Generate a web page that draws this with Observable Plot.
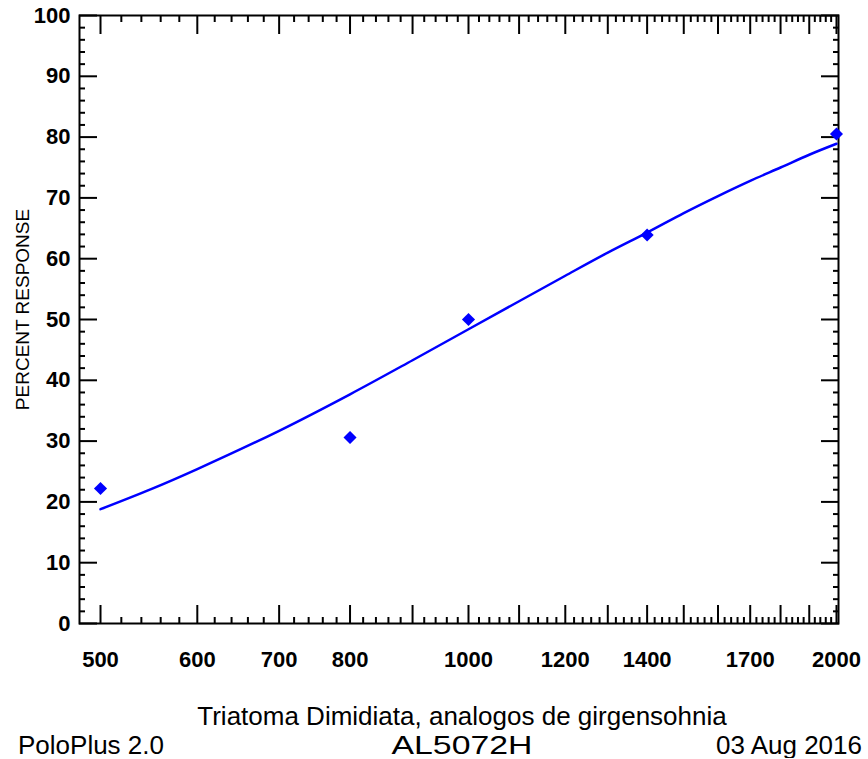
<!DOCTYPE html>
<html><head><meta charset="utf-8">
<script src="https://cdn.jsdelivr.net/npm/d3@7"></script>
<script src="https://cdn.jsdelivr.net/npm/@observablehq/plot@0.6"></script>
<style>
body{margin:0;background:#fff;font-family:"Liberation Sans",Arial,sans-serif;color:#000}
#wrap{width:868px;position:relative}
.cap{font-size:26px;line-height:26px;white-space:nowrap;position:relative}
</style></head><body>
<div id="wrap">
<div id="chart"></div>
<div class="cap" style="height:29px;margin-top:13px">
<span id="title" style="position:absolute;left:462px;transform:translateX(-50%)"></span>
</div>
<div class="cap" style="height:26px">
<span id="capL" style="position:absolute;left:18px"></span>
<span id="capC" style="position:absolute;left:462px;transform:translateX(-50%) scaleX(1.3)"></span>
<span id="capR" style="position:absolute;right:6px"></span>
</div>
</div>
<script>
// Observed data (dose vs percent response)
const doses = [500, 800, 1000, 1400, 2000];
const responses = [22.2, 30.6, 50.0, 63.9, 80.5];

// Fitted probit curve
const fitDoses = [500, 550, 600, 700, 800, 900, 1000, 1100, 1200, 1300, 1400, 1500, 1600, 1700, 1800, 1900, 2000];
const fitResponses = [18.8, 22.1, 25.4, 31.7, 37.7, 43.3, 48.4, 53.0, 57.2, 61.0, 64.3, 67.5, 70.3, 72.8, 75.0, 77.1, 78.9];

// Tick labels
const xLabels = [500, 600, 700, 800, 1000, 1200, 1400, 1700, 2000];
const xMajor = [500, 600, 700, 800, 900, 1000, 1100, 1200, 1300, 1400, 1500, 1600, 1700, 1800, 1900, 2000];
const xMinor = d3.range(520, 2000, 20).filter(v => v % 100 !== 0);
const yLabels = [0, 10, 20, 30, 40, 50, 60, 70, 80, 90, 100];
const yMinor = d3.range(2, 100, 2).filter(v => v % 10 !== 0);

const yTitle = "PERCENT RESPONSE";
const title = "Triatoma Dimidiata, analogos de girgensohnia";
const footLeft = "PoloPlus 2.0";
const footCenter = "AL5072H";
const footRight = "03 Aug 2016";

const points = doses.map((d, i) => ({dose: d, pct: responses[i]}));
const fit = fitDoses.map((d, i) => ({dose: d, pct: fitResponses[i]}));

const tk = {fill: "none", label: null, strokeWidth: 2};
const fmt = d => `${d}`;

const plot = Plot.plot({
  width: 868, height: 690,
  marginLeft: 79, marginRight: 30, marginTop: 15, marginBottom: 67,
  style: {fontFamily: "'Liberation Sans', Arial, sans-serif", background: "#fff", color: "#000", overflow: "visible"},
  x: {type: "log", domain: [480.6, 2007.6]},
  y: {domain: [0, 100]},
  marks: [
    Plot.axisX(xMajor, {anchor: "bottom", tickSize: -18, ...tk}),
    Plot.axisX(xMinor, {anchor: "bottom", tickSize: -6, ...tk}),
    Plot.axisX(xMajor, {anchor: "top", tickSize: -18, ...tk}),
    Plot.axisX(xMinor, {anchor: "top", tickSize: -6, ...tk}),
    Plot.axisY(yLabels, {anchor: "left", tickSize: -18, ...tk}),
    Plot.axisY(yMinor, {anchor: "left", tickSize: -6, ...tk}),
    Plot.axisY(yLabels, {anchor: "right", tickSize: -18, ...tk}),
    Plot.axisY(yMinor, {anchor: "right", tickSize: -6, ...tk}),
    Plot.axisX(xLabels, {anchor: "bottom", tickSize: 0, tickPadding: 28, fontSize: 22, fontWeight: "bold", label: null, tickFormat: fmt}),
    Plot.axisY(yLabels, {anchor: "left", tickSize: 0, tickPadding: 9, fontSize: 22, fontWeight: "bold", label: null, tickFormat: fmt}),
    Plot.frame({strokeWidth: 2}),
    Plot.text([yTitle], {frameAnchor: "left", textAnchor: "middle", rotate: -90, dx: -57, dy: -10, fontSize: 19, text: d => d}),
    Plot.line(fit, {x: "dose", y: "pct", stroke: "#0000ff", strokeWidth: 2.5, curve: "catmull-rom"}),
    Plot.dot(points, {x: "dose", y: "pct", symbol: "diamond2", r: 5.9, fill: "#0000ff", stroke: "none"})
  ]
});
document.getElementById("chart").appendChild(plot);
document.getElementById("title").textContent = title;
document.getElementById("capL").textContent = footLeft;
document.getElementById("capC").textContent = footCenter;
document.getElementById("capR").textContent = footRight;
</script>
</body></html>
